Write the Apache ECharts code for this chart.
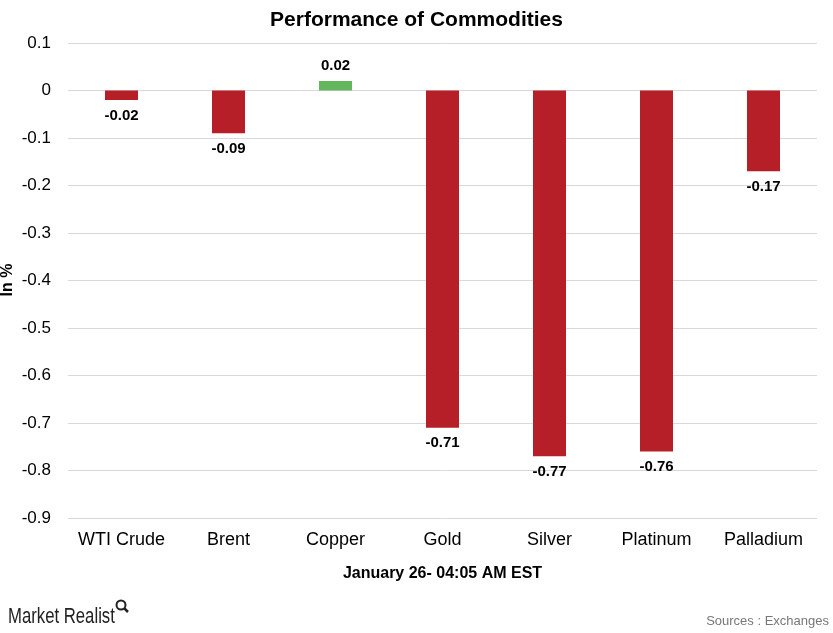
<!DOCTYPE html>
<html><head><meta charset="utf-8">
<script src="https://cdn.jsdelivr.net/npm/echarts@6/dist/echarts.min.js"></script>
<style>html,body{margin:0;padding:0;background:#fff}#c{width:833px;height:633px}</style>
</head><body><div id="c"></div>
<script>
const categories = ['WTI Crude','Brent','Copper','Gold','Silver','Platinum','Palladium'];
const values = [-0.02,-0.09,0.02,-0.71,-0.77,-0.76,-0.17];
const yTicks = {min:-0.9, max:0.1, interval:0.1};
const RED = '#B61F27', GREEN = '#63B55E';
const chart = echarts.init(document.getElementById('c'));
const F = 'Arial, "Liberation Sans", sans-serif';
chart.setOption({
  animation:false,
  title:{text:'Performance of Commodities',left:'center',top:5,textStyle:{fontFamily:F,fontSize:21,fontWeight:'bold',color:'#000'}},
  grid:{left:68,right:16,top:43,bottom:115,containLabel:false,outerBoundsMode:'none'},
  xAxis:{type:'category',data:categories,
    axisLine:{show:false},axisTick:{show:false},
    axisLabel:{interval:0,fontFamily:F,fontSize:18,color:'#000',margin:13},
    name:'January 26- 04:05 AM EST',nameLocation:'middle',nameGap:48,nameMoveOverlap:false,
    nameTextStyle:{fontFamily:F,fontSize:16,fontWeight:'bold',color:'#000'}},
  yAxis:{type:'value',min:yTicks.min,max:yTicks.max,interval:yTicks.interval,
    axisLine:{show:false},axisTick:{show:false},
    splitLine:{lineStyle:{color:'#d9d9d9',width:1}},
    axisLabel:{fontFamily:F,fontSize:17,color:'#000',margin:17,
      formatter:v=>{const r=Math.round(v*10)/10;return r===0?'0':String(r);}}},
  series:[{type:'bar',barWidth:33,
    data:values.map(v=>({value:v,itemStyle:{color:v>=0?GREEN:RED},
      label:{position:v>=0?'top':'bottom'}})),
    label:{show:true,distance:8,fontFamily:F,fontSize:15,fontWeight:'bold',color:'#000',
      formatter:p=>p.value.toFixed(2)}}],
  graphic:[
    {type:'text',x:8,y:280,rotation:Math.PI/2,style:{text:'In %',font:'bold 16px '+F,fill:'#000',align:'center',verticalAlign:'middle'}},
    {type:'text',x:8,y:606,scaleX:0.76,style:{text:'Market Realist',font:'22px "Liberation Sans", Arial, sans-serif',fill:'#222'}},
    {type:'circle',shape:{cx:121,cy:605,r:4.5},style:{fill:'none',stroke:'#222',lineWidth:2}},
    {type:'line',shape:{x1:124.5,y1:608.5,x2:128,y2:612},style:{stroke:'#222',lineWidth:2.5}},
    {type:'text',right:4,top:615,style:{text:'Sources : Exchanges',font:'13px '+F,fill:'#777'}}
  ]
});
</script></body></html>
